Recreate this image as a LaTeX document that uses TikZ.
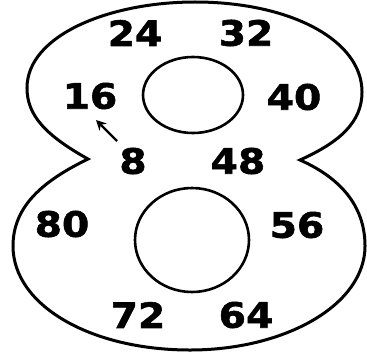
\documentclass[tikz,border=0pt]{standalone}
\usepackage{fontspec}
\newfontfamily\numfont{DejaVu Sans}[FakeStretch=1.12, FakeBold=1.6]
\usepackage{tikz}
\usetikzlibrary{arrows.meta, positioning}

\begin{document}
\begin{tikzpicture}[
  x=0.5pt, y=-0.5pt,
  every node/.style = {font=\numfont\bfseries\fontsize{17.5}{17.5}\selectfont},
  num/.style = {inner sep=0pt},
  outline/.style = {line width=1.5pt, black},
  hole/.style = {line width=1.3pt, black},
  arr/.style = {-{Stealth[length=5pt, width=5pt]}, line width=1.2pt}
]
\useasboundingbox (0,0) rectangle (367,353);

% Outline of the eight
\draw[outline] (88,159)
  .. controls (45,135) and (27,115) .. (27,88)
  .. controls (27,35) and (110,2) .. (195,2)
  .. controls (290,2) and (362,40) .. (362,92)
  .. controls (362,122) and (340,142) .. (300,160)
  .. controls (345,180) and (365,210) .. (365,246)
  .. controls (365,305) and (285,350) .. (190,350)
  .. controls (90,350) and (13,305) .. (13,246)
  .. controls (13,205) and (45,180) .. (88,159) -- cycle;

% Holes
\draw[hole] (193,95) ellipse [x radius=50, y radius=38];
\draw[hole] (192,240) ellipse [x radius=57, y radius=52];

% Numbers
\node[num] (n24) at (135,33) {24};
\node[num] (n32) at (246,33) {32};
\node[num] (n16) at (90,96) {16};
\node[num] (n40) at (294,97) {40};
\node[num] (n8)  at (133,161) {8};
\node[num] (n48) at (238,161) {48};
\node[num] (n80) at (62,224) {80};
\node[num] (n56) at (297,225) {56};
\node[num] (n72) at (138,315) {72};
\node[num] (n64) at (246,315) {64};

% Arrow from 8 to 16
\coordinate (tail) at (117,141);
\coordinate (head) at (96,120);
\draw[arr] (tail) -- (head);

\end{tikzpicture}
\end{document}
